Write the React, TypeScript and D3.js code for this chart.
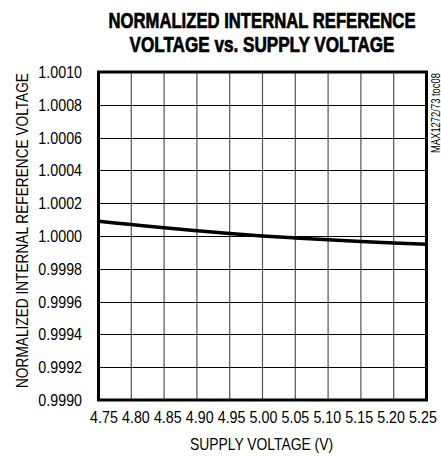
import React, { useEffect, useRef } from "react";
import * as d3 from "d3";

const supplyVoltage = [4.75, 4.8, 4.85, 4.9, 4.95, 5.0, 5.05, 5.1, 5.15, 5.2, 5.25];
const normalizedRef = [1.00009, 1.00007, 1.00005, 1.000032, 1.000015, 1.0, 0.999988, 0.999977, 0.999967, 0.999958, 0.99995];
const xTicks = [4.75, 4.8, 4.85, 4.9, 4.95, 5.0, 5.05, 5.1, 5.15, 5.2, 5.25];
const yTicks = [0.999, 0.9992, 0.9994, 0.9996, 0.9998, 1.0, 1.0002, 1.0004, 1.0006, 1.0008, 1.001];
const titleLines = ["NORMALIZED INTERNAL REFERENCE", "VOLTAGE vs. SUPPLY VOLTAGE"];

const W = 441, H = 457;
const M = { left: 98.5, right: 426.5, top: 72, bottom: 400 };
const FONT = "'Liberation Sans', Arial, sans-serif";
const SX = 0.84;

export default function App() {
  const ref = useRef<SVGSVGElement>(null);
  useEffect(() => {
    const svg = d3.select(ref.current);
    svg.selectAll("*").remove();
    const x = d3.scaleLinear().domain([4.75, 5.25]).range([M.left, M.right]);
    const xLab = d3.scaleLinear().domain([4.75, 5.25]).range([104, 423]);
    const y = d3.scaleLinear().domain([0.999, 1.001]).range([M.bottom, M.top]);

    svg.append("rect").attr("width", W).attr("height", H).attr("fill", "#fff");

    // grid
    svg.append("g").selectAll("line").data(xTicks.slice(1, -1)).join("line")
      .attr("x1", d => x(d)).attr("x2", d => x(d)).attr("y1", M.top).attr("y2", M.bottom)
      .attr("stroke", "#555").attr("stroke-width", 1.2);
    svg.append("g").selectAll("line").data(yTicks.slice(1, -1)).join("line")
      .attr("y1", d => Math.round(y(d)) + 0.5).attr("y2", d => Math.round(y(d)) + 0.5).attr("x1", M.left).attr("x2", M.right)
      .attr("stroke", "#000").attr("stroke-width", 1);

    // curve
    const line = d3.line<number>().x((_, i) => x(supplyVoltage[i])).y(d => y(d)).curve(d3.curveMonotoneX);
    svg.append("path").datum(normalizedRef).attr("d", line).attr("fill", "none")
      .attr("stroke", "#000").attr("stroke-width", 3.5);

    // frame
    svg.append("rect").attr("x", M.left).attr("y", M.top).attr("width", M.right - M.left).attr("height", M.bottom - M.top)
      .attr("fill", "none").attr("stroke", "#000").attr("stroke-width", 3);

    // y tick labels
    svg.append("g").selectAll("text").data(yTicks).join("text")
      .attr("transform", d => `translate(82,${y(d)}) scale(${SX},1)`).attr("dy", "0.35em").attr("text-anchor", "end")
      .attr("font-family", FONT).attr("font-size", 17).attr("fill", "#000")
      .text(d => d.toFixed(4));

    // x tick labels
    svg.append("g").selectAll("text").data(xTicks).join("text")
      .attr("transform", d => `translate(${xLab(d)},423) scale(${SX},1)`).attr("text-anchor", "middle")
      .attr("font-family", FONT).attr("font-size", 17).attr("fill", "#000")
      .text(d => d.toFixed(2));

    // titles
    const titleLens = [307, 265];
    svg.append("g").selectAll("text").data(titleLines).join("text")
      .attr("x", 262).attr("y", (_, i) => 28 + i * 24).attr("text-anchor", "middle")
      .attr("textLength", (_, i) => titleLens[i]).attr("lengthAdjust", "spacingAndGlyphs")
      .attr("font-family", FONT).attr("font-weight", "bold").attr("font-size", 22).attr("fill", "#000")
      .attr("stroke", "#000").attr("stroke-width", 0.7)
      .text(d => d);

    svg.append("text").attr("x", 261.5).attr("y", 450).attr("text-anchor", "middle")
      .attr("textLength", 143).attr("lengthAdjust", "spacingAndGlyphs")
      .attr("font-family", FONT).attr("font-size", 17).text("SUPPLY VOLTAGE (V)");

    svg.append("text").attr("transform", `translate(28,230.5) rotate(-90)`)
      .attr("text-anchor", "middle").attr("font-family", FONT).attr("font-size", 17)
      .attr("textLength", 315).attr("lengthAdjust", "spacingAndGlyphs")
      .text("NORMALIZED INTERNAL REFERENCE VOLTAGE");

    svg.append("text").attr("transform", `translate(439.5,153) rotate(-90)`)
      .attr("text-anchor", "start").attr("font-family", FONT).attr("font-size", 12)
      .attr("textLength", 80).attr("lengthAdjust", "spacingAndGlyphs")
      .text("MAX1272/73 toc08");
  }, []);
  return (
    <svg ref={ref} width={W} height={H} style={{ position: "absolute", left: 0, top: 0 }} />
  );
}
